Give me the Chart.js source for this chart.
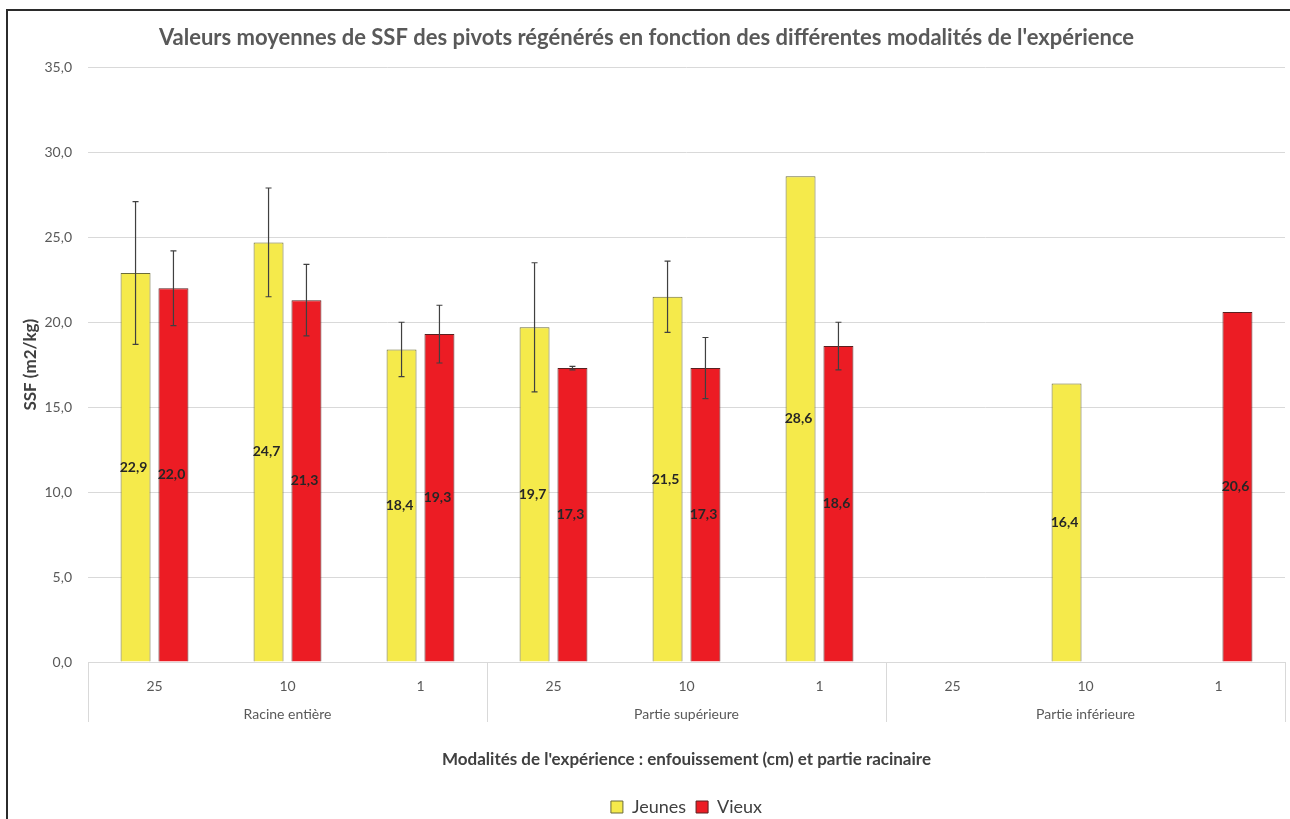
<!DOCTYPE html>
<html>
<head>
<meta charset="utf-8">
<script src="https://cdn.jsdelivr.net/npm/chart.js@4.4.1/dist/chart.umd.min.js"></script>
<style>
  html, body { margin: 0; padding: 0; background: #fff; overflow: hidden; width: 1290px; height: 819px; }
  #frame { position: absolute; left: 6px; top: 9px; width: 1320px; height: 850px;
           border-left: 2px solid #2b2b2b; border-top: 2px solid #2b2b2b; }
  #wrap { position: absolute; left: 0; top: 0; width: 1292px; height: 830px; }
</style>
</head>
<body>
<div id="frame"><div id="wrap"><canvas id="chart"></canvas></div></div>
<script>
// Données
const categories = ["25", "10", "1", "25", "10", "1", "25", "10", "1"];
const groups = ["Racine entière", "Partie supérieure", "Partie inférieure"];
const jeunes = [22.9, 24.7, 18.4, 19.7, 21.5, 28.6, null, 16.4, null];
const vieux = [22.0, 21.3, 19.3, 17.3, 17.3, 18.6, null, null, 20.6];
// Barres d'erreur (±)
const jeunesErr = [4.2, 3.2, 1.6, 3.8, 2.1, null, null, null, null];
const vieuxErr = [2.2, 2.1, 1.7, 0.1, 1.8, 1.4, null, null, null];
const yTicks = [0, 5, 10, 15, 20, 25, 30, 35];

const FONT = "Lato, 'Open Sans', sans-serif";
const fmt = (v) => v.toFixed(1).replace(".", ",");

// Barres d'erreur + étiquettes de valeurs
const barExtras = {
  id: "barExtras",
  afterDatasetsDraw(chart) {
    const ctx = chart.ctx;
    const y = chart.scales.y;
    const errs = [jeunesErr, vieuxErr];
    chart.data.datasets.forEach((ds, di) => {
      const meta = chart.getDatasetMeta(di);
      meta.data.forEach((bar, i) => {
        const v = ds.data[i];
        if (v === null || v === undefined) return;
        const e = errs[di][i];
        if (e) {
          const top = y.getPixelForValue(v + e);
          const bot = y.getPixelForValue(v - e);
          ctx.save();
          ctx.strokeStyle = "#404040";
          ctx.lineWidth = 1.2;
          ctx.beginPath();
          ctx.moveTo(bar.x, top); ctx.lineTo(bar.x, bot);
          ctx.moveTo(bar.x - 3, top); ctx.lineTo(bar.x + 3, top);
          ctx.moveTo(bar.x - 3, bot); ctx.lineTo(bar.x + 3, bot);
          ctx.stroke();
          ctx.restore();
        }
        ctx.save();
        ctx.font = "bold 14px " + FONT;
        ctx.fillStyle = "#262626";
        ctx.textAlign = "center";
        ctx.textBaseline = "middle";
        ctx.fillText(fmt(v), bar.x - 2, (bar.y + bar.base) / 2);
        ctx.restore();
      });
    });
  }
};

// Deuxième niveau de l'axe X (groupes)
const groupAxis = {
  id: "groupAxis",
  afterDraw(chart) {
    const ctx = chart.ctx;
    const x = chart.scales.x;
    const bottom = chart.chartArea.bottom;
    const catW = x.width / categories.length;
    ctx.save();
    ctx.strokeStyle = "#d9d9d9";
    ctx.lineWidth = 1;
    ctx.beginPath();
    for (let g = 0; g <= groups.length; g++) {
      const px = Math.round(x.getPixelForValue(Math.min(g * 3, categories.length - 1)) +
        (g * 3 >= categories.length ? catW / 2 : -catW / 2)) + 0.5;
      ctx.moveTo(px, bottom);
      ctx.lineTo(px, bottom + 60);
    }
    ctx.stroke();
    ctx.font = "14px " + FONT;
    ctx.fillStyle = "#595959";
    ctx.textAlign = "center";
    ctx.textBaseline = "middle";
    groups.forEach((g, gi) => {
      const cx = x.getPixelForValue(gi * 3 + 1);
      ctx.fillText(g, cx, bottom + 52);
    });
    ctx.restore();
  }
};

new Chart(document.getElementById("chart"), {
  type: "bar",
  data: {
    labels: categories,
    datasets: [
      {
        label: "Jeunes",
        data: jeunes,
        backgroundColor: "#f5ea4b",
        borderColor: "#6b6b3a",
        borderWidth: 1,
        categoryPercentage: 0.57,
        barPercentage: 0.79,
      },
      {
        label: "Vieux",
        data: vieux,
        backgroundColor: "#ec1c24",
        borderColor: "#5a2020",
        borderWidth: 1,
        categoryPercentage: 0.57,
        barPercentage: 0.79,
      },
    ],
  },
  options: {
    responsive: true,
    maintainAspectRatio: false,
    animation: false,
    layout: { padding: { left: 0, right: 15, top: 0, bottom: 15 } },
    scales: {
      x: {
        grid: { display: false },
        border: { display: true, color: "#d9d9d9" },
        ticks: { color: "#595959", font: { family: FONT, size: 14 }, padding: 8, maxRotation: 0 },
        title: {
          display: true,
          text: "Modalités de l'expérience : enfouissement (cm) et partie racinaire",
          color: "#404040",
          font: { family: FONT, size: 17, weight: "bold" },
          padding: { top: 63, bottom: 18 },
        },
        afterFit(scale) { scale.height = 126; },
      },
      y: {
        min: 0,
        max: 35,
        afterBuildTicks(scale) { scale.ticks = yTicks.map((v) => ({ value: v })); },
        grid: { color: "#d9d9d9", drawTicks: false },
        border: { display: false },
        ticks: {
          color: "#595959",
          font: { family: FONT, size: 14 },
          padding: 16,
          callback: (v) => fmt(v),
        },
        title: {
          display: true,
          text: "SSF (m2/kg)",
          color: "#404040",
          font: { family: FONT, size: 17, weight: "bold" },
          padding: { top: 12, bottom: 4 },
        },
        afterFit(scale) { scale.width = 80; },
      },
    },
    plugins: {
      title: {
        display: true,
        text: "Valeurs moyennes de SSF des pivots régénérés en fonction des différentes modalités de l'expérience",
        color: "#595959",
        font: { family: FONT, size: 22, weight: "bold" },
        padding: { top: 14, bottom: 16 },
      },
      legend: {
        position: "bottom",
        fullSize: false,
        labels: {
          color: "#404040",
          font: { family: FONT, size: 18 },
          boxWidth: 12,
          boxHeight: 12,
          padding: 10,
        },
      },
      tooltip: { enabled: false },
    },
  },
  plugins: [barExtras, groupAxis],
});
</script>
</body>
</html>
